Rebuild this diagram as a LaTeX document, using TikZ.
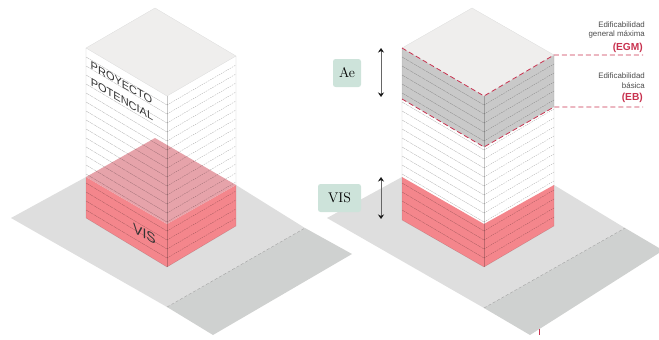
\documentclass[tikz,border=0pt]{standalone}
\usepackage{fontspec}
\setsansfont{Liberation Sans}
\usetikzlibrary{arrows.meta}
\definecolor{ourground}{HTML}{DEDEDE}
\definecolor{ourstrip}{HTML}{CFD1D0}
\definecolor{ourroof}{HTML}{EFEEED}
\definecolor{ourpink}{HTML}{F4868C}
\definecolor{ourdusty}{HTML}{E6A3AA}
\definecolor{ourgrey}{HTML}{C9C9C9}
\definecolor{ourmint}{HTML}{CDE3DA}
\definecolor{ourred}{HTML}{C8324F}

\begin{document}
\begin{tikzpicture}[x=1pt,y=-1pt]

  \tikzstyle{ground}=[fill=ourground]
  \tikzstyle{strip}=[fill=ourstrip]
  \tikzstyle{divider}=[draw=gray!80,densely dashed,line width=0.3pt]
  \tikzstyle{roof}=[fill=ourroof,draw=gray!30,line width=0.25pt]
  \tikzstyle{floorleft}=[draw=black,opacity=0.33,dash pattern=on 4pt off 0.6pt,line width=0.25pt]
  \tikzstyle{floorright}=[draw=black,opacity=0.38,dash pattern=on 1.5pt off 1pt,line width=0.25pt]
  \tikzstyle{edge}=[draw=black,opacity=0.22,line width=0.3pt]
  \tikzstyle{level}=[draw=ourred,dash pattern=on 5pt off 3pt,line width=0.8pt]
  \tikzstyle{measure}=[draw=black!60,line width=1pt,{Stealth[length=4.5pt,width=6pt,color=black!90]}-{Stealth[length=4.5pt,width=6pt,color=black!90]}]
  \tikzstyle{tag}=[fill=ourmint,rounded corners=2.5pt,inner sep=0pt,font=\rmfamily\fontsize{14}{14}\selectfont]
  \tikzstyle{facetext}=[yslant=-0.58,font=\sffamily\fontsize{11}{11}\selectfont,text=black!80,inner sep=0pt]
  \tikzstyle{note}=[font=\sffamily\fontsize{7.9}{9.5}\selectfont,text=black!70,align=right,anchor=east,inner sep=0pt]
  \tikzstyle{code}=[font=\sffamily\bfseries\fontsize{10.2}{10.2}\selectfont,text=ourred,anchor=east,inner sep=0pt]

  \useasboundingbox (0,0) rectangle (659,340);

  % left ground
  \path
  (11,218)  coordinate(gla)
  (86,177)  coordinate(glb)
  (305,228) coordinate(glc)
  (352,254) coordinate(gld)
  (213,335) coordinate(gle)
  (167,307) coordinate(glf);
  \fill[ground] (gla)--(glb)--(236,185)--(glc)--(glf)--cycle;
  \fill[strip] (glf)--(glc)--(gld)--(gle)--cycle;
  \draw[divider] (glf)--(glc);

  % right ground
  \path
  (327,218) coordinate(gra)
  (402,177) coordinate(grb)
  (625,228) coordinate(grc)
  (659,248) coordinate(grd)
  (659,253) coordinate(gre)
  (530,335) coordinate(grf)
  (484,308) coordinate(grg);
  \fill[ground] (gra)--(grb)--(554,185)--(grc)--(grg)--cycle;
  \fill[strip] (grg)--(grc)--(grd)--(gre)--(grf)--cycle;
  \draw[divider] (grg)--(grc);
  \fill[ourred] (539,329) rectangle (540,335);

  % left building
  \path
  (155,8)   coordinate(la)
  (86,48)   coordinate(lb)
  (167,96)  coordinate(lc)
  (236,56)  coordinate(ld)
  (86,218)  coordinate(le)
  (167,267) coordinate(lf)
  (236,226) coordinate(lg)
  (86,177)  coordinate(lh)
  (167,224) coordinate(li)
  (236,185) coordinate(lj)
  (155,138) coordinate(lk);
  \fill[white] (lb)--(lc)--(ld)--(lg)--(lf)--(le)--cycle;
  \fill[ourpink] (lh)--(li)--(lj)--(lg)--(lf)--(le)--cycle;
  \fill[ourdusty] (lh)--(lk)--(lj)--(li)--cycle;
  \foreach \n in {1,...,18}{
    \pgfmathsetmacro{\dy}{\n*9}
    \draw[floorleft] (86,48+\dy)--(167,96+\dy);
    \draw[floorright] (167,96+\dy)--(236,56+\dy);
  }
  \path[roof] (la)--(lb)--(lc)--(ld)--cycle;
  \draw[edge] (lb)--(le)--(lf)--(lg)--(ld);
  \draw[edge] (lc)--(lf);

  % right building
  \path
  (472,8)   coordinate(ra)
  (402,48)  coordinate(rb)
  (484,96)  coordinate(rc)
  (554,55)  coordinate(rd)
  (402,220) coordinate(re)
  (484,267) coordinate(rf)
  (554,226) coordinate(rg)
  (402,177) coordinate(rh)
  (484,224) coordinate(ri)
  (554,185) coordinate(rj)
  (402,99)  coordinate(rk)
  (484,147) coordinate(rl)
  (554,107) coordinate(rm);
  \fill[white] (rb)--(rc)--(rd)--(rg)--(rf)--(re)--cycle;
  \fill[ourpink] (rh)--(ri)--(rj)--(rg)--(rf)--(re)--cycle;
  \fill[ourgrey] (rb)--(rc)--(rd)--(rm)--(rl)--(rk)--cycle;
  \foreach \n in {1,...,18}{
    \pgfmathsetmacro{\dy}{\n*9}
    \draw[floorleft] (402,48+\dy)--(484,96+\dy);
    \draw[floorright] (484,96+\dy)--(554,55+\dy);
  }
  \path[roof] (ra)--(rb)--(rc)--(rd)--cycle;
  \draw[edge] (rb)--(re)--(rf)--(rg)--(rd);
  \draw[edge] (rc)--(rf);

  % levels
  \path
  (643,55)  coordinate(egm)
  (643,107) coordinate(eb);
  \draw[level] (rb)--(rc)--(rd)--(egm);
  \draw[level] (rk)--(rl)--(rm)--(eb);

  % measures
  \path
  (381,48)  coordinate(aetop)
  (381,97)  coordinate(aebot)
  (381,177) coordinate(vistop)
  (381,219) coordinate(visbot);
  \draw[measure] (aetop)--(aebot);
  \draw[measure] (vistop)--(visbot);

  \node[tag,minimum width=28pt,minimum height=28pt] (ae) at (347,73) {Ae};
  \node[tag,minimum width=43pt,minimum height=28pt] (vis) at (339.5,198) {VIS};

  % face labels
  \node[facetext] (proyecto) at (121.5,83) {PROYECTO};
  \node[facetext] (potencial) at (122,99.5) {POTENCIAL};
  \node[facetext,font=\sffamily\fontsize{14}{14}\selectfont] (vislabel) at (144.5,234) {VIS};

  \node[note] (edifa) at (645,30) {Edificabilidad\\general máxima};
  \node[code] (codea) at (643,47.5) {(EGM)};
  \node[note] (edifb) at (645,80.5) {Edificabilidad\\básica};
  \node[code] (codeb) at (643,98) {(EB)};

\end{tikzpicture}
\end{document}
